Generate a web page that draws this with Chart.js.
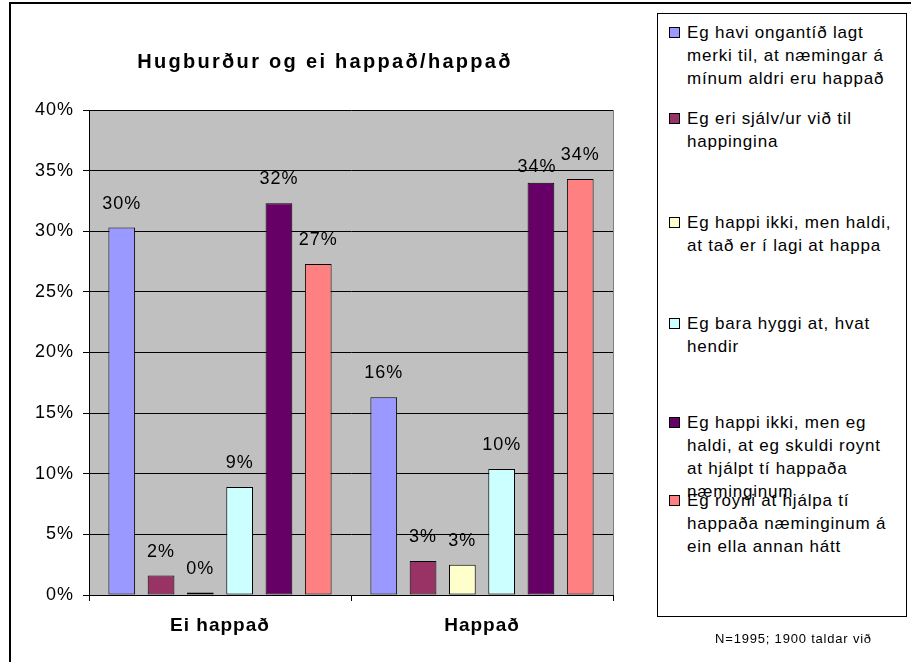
<!DOCTYPE html>
<html>
<head>
<meta charset="utf-8">
<script src="https://cdn.jsdelivr.net/npm/chart.js@4.4.1/dist/chart.umd.min.js"></script>
<style>
  body { margin: 0; background: #fff; font-family: 'Liberation Sans', Arial, sans-serif; }
  #wrap { position: relative; width: 911px; height: 662px; overflow: hidden; background: #fff; }
  #frame { position: absolute; left: 9px; top: 2px; width: 940px; height: 680px; border: 2px solid #000; }
  #chart { position: absolute; left: 0; top: 0; }
  #legend { position: absolute; left: 657px; top: 13px; width: 248px; height: 602px; border: 1px solid #000; background: #fff; }
  .item { position: absolute; left: 29px; width: 214px; font-size: 17px; line-height: 23px; letter-spacing: 0.8px; color: #000; }
  .box { position: absolute; left: -18px; top: 6px; width: 9px; height: 9px; border: 1px solid #000; }
  #note { position: absolute; left: 669px; width: 249px; top: 631px; text-align: center; font-size: 13px; letter-spacing: 0.8px; color: #000; }
</style>
</head>
<body>
<div id="wrap">
  <div id="frame"></div>
  <canvas id="chart" width="911" height="662"></canvas>
  <div id="legend"></div>
  <div id="note">N=1995; 1900 taldar við</div>
</div>
<script>
// data (percent)
const categories = ['Ei happað', 'Happað'];
const seriesNames = [
  'Eg havi ongantíð lagt merki til, at næmingar á mínum aldri eru happað',
  'Eg eri sjálv/ur við til happingina',
  'Eg happi ikki, men haldi, at tað er í lagi at happa',
  'Eg bara hyggi at, hvat hendir',
  'Eg happi ikki, men eg haldi, at eg skuldi roynt at hjálpt tí happaða næminginum',
  'Eg royni at hjálpa tí happaða næminginum á ein ella annan hátt'
];
const havi = [30.3, 16.3];
const sjalvur = [1.6, 2.8];
const happiIkki = [0.2, 2.5];
const baraHyggi = [8.9, 10.4];
const skuldiRoynt = [32.3, 34.0];
const royniHjalpa = [27.3, 34.3];
const yTicks = [0, 5, 10, 15, 20, 25, 30, 35, 40];

const chartTitle = 'Hugburður og ei happað/happað';
const colors = ['#9999FF', '#993366', '#FFFFCC', '#CCFFFF', '#660066', '#FF8080'];
// first-line top of each legend entry (px inside legend box)
const legendTops = [7, 93, 197, 298, 397, 475];

const allSeries = [havi, sjalvur, happiIkki, baraHyggi, skuldiRoynt, royniHjalpa];
const FONT = '"Liberation Sans", Arial, sans-serif';

// html legend
const legendEl = document.getElementById('legend');
seriesNames.forEach((name, i) => {
  const it = document.createElement('div');
  it.className = 'item';
  it.style.top = legendTops[i] + 'px';
  const b = document.createElement('span');
  b.className = 'box';
  b.style.background = colors[i];
  it.appendChild(b);
  it.appendChild(document.createTextNode(name));
  legendEl.appendChild(it);
});

const plotBg = {
  id: 'plotBg',
  beforeDraw(chart) {
    const a = chart.chartArea, c = chart.ctx;
    c.letterSpacing = '1px';
    c.save();
    c.fillStyle = '#C0C0C0';
    c.fillRect(a.left, a.top, a.right - a.left, a.bottom - a.top);
    c.strokeStyle = '#808080';
    c.lineWidth = 1;
    c.beginPath();
    c.moveTo(a.right + 0.5, a.top);
    c.lineTo(a.right + 0.5, a.bottom);
    c.stroke();
    c.restore();
  }
};

const titleAndLabels = {
  id: 'titleAndLabels',
  afterDatasetsDraw(chart) {
    const c = chart.ctx;
    c.save();
    c.fillStyle = '#000';
    c.textAlign = 'center';
    c.textBaseline = 'middle';
    c.letterSpacing = '2.3px';
    c.font = 'bold 20px ' + FONT;
    c.fillText(chartTitle, 325, 62);
    c.letterSpacing = '1px';
    c.font = '18px ' + FONT;
    const n = chart.data.datasets.length;
    chart.data.datasets.forEach((ds, i) => {
      chart.getDatasetMeta(i).data.forEach((bar, j) => {
        let x = bar.x, y = bar.y - 24;
        // nudge a label down when it would collide with the next one
        if (i < n - 1) {
          const nb = chart.getDatasetMeta(i + 1).data[j];
          if (Math.abs((nb.y - 24) - y) < 12 && nb.y <= bar.y) { y += 8; x -= 4; }
        }
        c.fillText(Math.round(ds.data[j]) + '%', x, y);
      });
    });
    c.restore();
  }
};

new Chart(document.getElementById('chart'), {
  type: 'bar',
  data: {
    labels: categories,
    datasets: allSeries.map((vals, i) => ({
      label: seriesNames[i],
      data: vals,
      backgroundColor: colors[i],
      borderColor: '#000',
      borderWidth: 1,
      borderSkipped: false,
      barPercentage: 0.68,
      categoryPercentage: 0.9
    }))
  },
  options: {
    responsive: false,
    animation: false,
    devicePixelRatio: 1,
    layout: { padding: { left: 10, right: 298, top: 110, bottom: 0 } },
    plugins: {
      legend: { display: false },
      title: { display: false },
      tooltip: { enabled: false }
    },
    scales: {
      x: {
        afterFit(scale) { scale.height = 67; },
        border: { color: '#000', width: 1 },
        grid: { drawOnChartArea: false, tickLength: 6, tickColor: '#000', offset: true },
        ticks: {
          color: '#000',
          padding: 13,
          font: { family: FONT, size: 19, weight: 'bold' }
        }
      },
      y: {
        min: 0,
        max: 40,
        afterFit(scale) { scale.width = 79; },
        afterBuildTicks(scale) { scale.ticks = yTicks.map(v => ({ value: v })); },
        border: { color: '#000', width: 1 },
        grid: { color: '#000', lineWidth: 1, tickLength: 6, tickColor: '#000' },
        ticks: {
          color: '#000',
          padding: 9,
          callback: v => v + '%',
          font: { family: FONT, size: 18 }
        }
      }
    }
  },
  plugins: [plotBg, titleAndLabels]
});
</script>
</body>
</html>
